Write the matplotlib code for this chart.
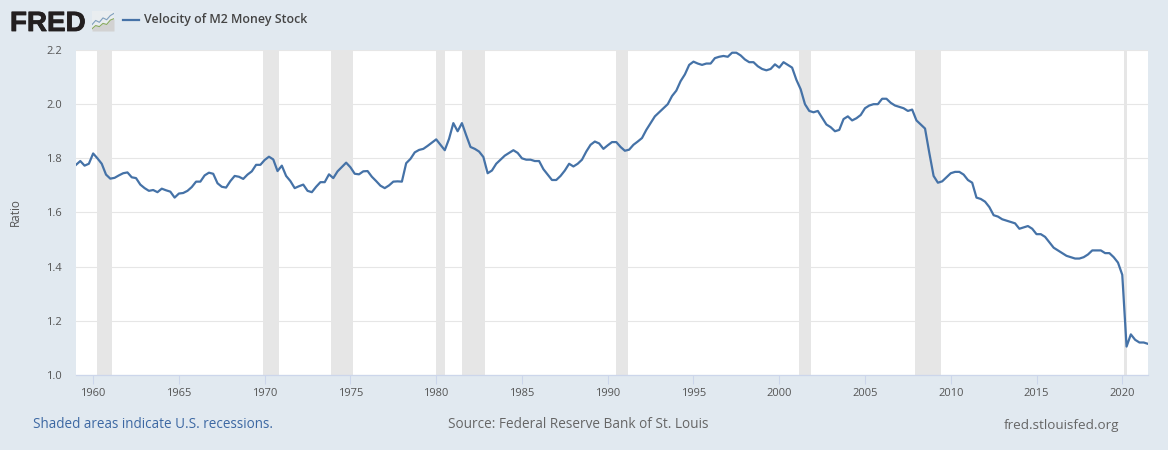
import matplotlib
matplotlib.use('Agg')
import matplotlib.pyplot as plt
import matplotlib.patheffects as pe
import numpy as np

plt.rcParams['font.family'] = ['Open Sans', 'DejaVu Sans']

start_year = 1959
velocity = [
    1.776, 1.79, 1.773, 1.78,      # 1959
    1.818, 1.80, 1.78, 1.74,
    1.725, 1.728, 1.737, 1.745,
    1.748, 1.73, 1.727, 1.703,
    1.69, 1.68, 1.683, 1.675,
    1.688, 1.682, 1.677, 1.655,    # 1964
    1.67, 1.672, 1.68, 1.694,
    1.714, 1.714, 1.737, 1.747,
    1.743, 1.708, 1.695, 1.692,
    1.716, 1.735, 1.732, 1.724,
    1.74, 1.752, 1.776, 1.776,     # 1969
    1.794, 1.806, 1.796, 1.753,
    1.773, 1.735, 1.716, 1.69,
    1.697, 1.703, 1.68, 1.675,
    1.695, 1.712, 1.712, 1.741,
    1.727, 1.752, 1.768, 1.784,    # 1974
    1.767, 1.743, 1.741, 1.752,
    1.753, 1.732, 1.716, 1.699,
    1.69, 1.70, 1.714, 1.715,
    1.714, 1.782, 1.798, 1.822,
    1.831, 1.835, 1.846, 1.858,    # 1979
    1.87, 1.85, 1.83, 1.872,
    1.93, 1.90, 1.93, 1.885,
    1.842, 1.835, 1.825, 1.805,
    1.745, 1.755, 1.78, 1.795,
    1.81, 1.82, 1.83, 1.82,        # 1984
    1.80, 1.795, 1.795, 1.79,
    1.79, 1.76, 1.74, 1.72,
    1.72, 1.735, 1.755, 1.78,
    1.77, 1.78, 1.795, 1.825,
    1.85, 1.862, 1.855, 1.835,     # 1989
    1.848, 1.86, 1.86, 1.842,
    1.828, 1.832, 1.85, 1.862,
    1.875, 1.905, 1.93, 1.955,
    1.97, 1.985, 2.00, 2.03,
    2.05, 2.085, 2.11, 2.145,      # 1994
    2.157, 2.15, 2.145, 2.15,
    2.15, 2.17, 2.175, 2.178,
    2.175, 2.19, 2.19, 2.18,
    2.165, 2.155, 2.155, 2.14,
    2.13, 2.125, 2.13, 2.147,      # 1999
    2.135, 2.155, 2.145, 2.135,
    2.09, 2.055, 2.00, 1.975,
    1.97, 1.975, 1.95, 1.925,
    1.915, 1.90, 1.905, 1.945,
    1.955, 1.94, 1.948, 1.96,      # 2004
    1.985, 1.995, 2.00, 2.00,
    2.02, 2.02, 2.005, 1.995,
    1.99, 1.985, 1.975, 1.98,
    1.94, 1.925, 1.91, 1.82,
    1.735, 1.71, 1.715, 1.73,      # 2009
    1.745, 1.75, 1.75, 1.74,
    1.72, 1.71, 1.655, 1.65,
    1.64, 1.62, 1.59, 1.585,
    1.575, 1.57, 1.565, 1.56,
    1.54, 1.545, 1.55, 1.54,       # 2014
    1.52, 1.52, 1.51, 1.49,
    1.47, 1.46, 1.45, 1.44,
    1.435, 1.43, 1.43, 1.435,
    1.445, 1.46, 1.46, 1.46,
    1.45, 1.45, 1.435, 1.415,      # 2019
    1.37, 1.105, 1.15, 1.13,
    1.12, 1.12, 1.115,
]
quarters = start_year + np.arange(len(velocity)) / 4

recessions = [
    (1960.25, 1961.09), (1969.92, 1970.84), (1973.84, 1975.17),
    (1980.0, 1980.5), (1981.5, 1982.84), (1990.5, 1991.17),
    (2001.17, 2001.84), (2007.92, 2009.42), (2020.09, 2020.25),
]
y_ticks = [1.0, 1.2, 1.4, 1.6, 1.8, 2.0, 2.2]
x_ticks = list(range(1960, 2025, 5))

# small chart icon beside the logo
icon_x = [0, 1, 2, 3, 4, 5, 6]
icon_blue = [0.35, 0.58, 0.48, 0.72, 0.62, 0.85, 0.97]
icon_green = [0.12, 0.3, 0.24, 0.42, 0.36, 0.6, 0.68]

BG = '#e1e9f0'
W, H = 1168, 450
fig = plt.figure(figsize=(W / 100, H / 100), dpi=100, facecolor=BG)
ax = fig.add_axes([76 / W, (H - 375) / H, 1072 / W, 325 / H], facecolor='white')

for start, end in recessions:
    ax.axvspan(start, end, color='#e6e6e6', lw=0, zorder=1)
ax.grid(axis='y', color='#e6e6e6', lw=0.8, zorder=0)
ax.set_axisbelow(True)
ax.plot(quarters, velocity, color='#4572a7', lw=1.6, zorder=3, solid_joinstyle='round')

ax.set_xlim(1959, 2021.5)
ax.set_ylim(1.0, 2.2)
ax.set_xticks(x_ticks)
ax.set_yticks(y_ticks)
ax.set_yticklabels([f'{v:.1f}' for v in y_ticks])
ax.tick_params(axis='x', color='#ccd6eb', length=6.5, width=0.75, labelsize=8, labelcolor='#555555', pad=2.5)
ax.tick_params(axis='y', length=0, labelsize=8, labelcolor='#555555', pad=10)
for side in ['top', 'left', 'right']:
    ax.spines[side].set_visible(False)
ax.spines['bottom'].set_color('#ccd6eb')
ax.spines['bottom'].set_linewidth(0.9)
ax.set_ylabel('Ratio', fontsize=8.5, color='#555555')
ax.yaxis.set_label_coords((22 - 76) / 1072, 0.5)

# header
logo = fig.text(10 / W, (H - 31) / H, 'FRED', fontsize=20, family='Liberation Sans', fontweight='bold',
                color='#231f20', va='baseline', ha='left')
logo.set_path_effects([pe.withStroke(linewidth=0.6, foreground='#231f20')])
icon = fig.add_axes([92 / W, (H - 31) / H, 22 / W, 20 / H], facecolor='#e9edf0')
icon.fill_between(icon_x, icon_green, 0, color='#d2d2d2', lw=0)
icon.plot(icon_x, icon_blue, color='#7f9fbd', lw=0.8)
icon.plot(icon_x, icon_green, color='#8aaa60', lw=0.8)
icon.set_xlim(0, 6)
icon.set_ylim(0, 1.1)
icon.set_xticks([])
icon.set_yticks([])
for side in icon.spines:
    icon.spines[side].set_visible(False)
fig.add_artist(plt.Line2D([123 / W, 139 / W], [(H - 20) / H] * 2, color='#4572a7', lw=1.6))
fig.text(143.5 / W, (H - 20) / H, 'Velocity of M2 Money Stock', fontsize=8.9, fontweight='semibold',
         color='#444444', va='center', ha='left')

# footer
fig.text(33 / W, (H - 425) / H, 'Shaded areas indicate U.S. recessions.', fontsize=9.75, color='#3d68a3', va='center')
fig.text(448 / W, (H - 425) / H, 'Source: Federal Reserve Bank of St. Louis', fontsize=9.8, color='#666666', va='center')
fig.text(1119 / W, (H - 425) / H, 'fred.stlouisfed.org', fontsize=9.7, color='#666666', va='center', ha='right')

fig.savefig('out.png', dpi=100, facecolor=BG)
